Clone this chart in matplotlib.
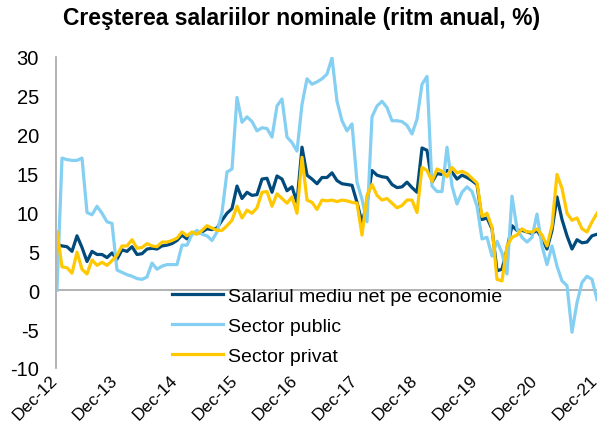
import matplotlib
matplotlib.use("Agg")
import matplotlib.pyplot as plt
import matplotlib.transforms as mtransforms
import numpy as np

plt.rcParams['font.family'] = ['Liberation Sans', 'DejaVu Sans']
plt.rcParams['axes.unicode_minus'] = False

# monthly, Dec-12 .. Dec-21
economie = [5.9, 5.7, 5.6, 5.0, 7.0, 5.5, 3.7, 5.0, 4.6, 4.6, 4.2, 4.8,
            4.0, 5.2, 5.0, 5.6, 4.6, 4.7, 5.3, 5.4, 5.3, 5.7, 5.8, 6.0,
            6.4, 7.1, 6.6, 7.3, 7.3, 7.5, 7.9, 7.8, 8.0, 9.0, 9.9, 10.5,
            13.4, 11.8, 12.6, 12.2, 12.3, 14.3, 14.4, 12.6, 14.7, 14.3, 12.8, 13.3,
            11.3, 18.4, 14.8, 14.3, 13.7, 14.5, 14.5, 15.1, 14.1, 13.7, 13.6, 13.5,
            11.3, 8.7, 11.2, 15.4, 14.8, 14.6, 14.5, 13.6, 13.2, 13.3, 13.9, 13.2,
            12.6, 18.3, 18.0, 13.9, 15.0, 14.9, 15.4, 15.2, 14.3, 14.8, 14.5, 14.1,
            13.6, 9.1, 9.3, 7.9, 2.5, 2.7, 5.3, 8.3, 7.7, 7.7, 7.5, 7.3,
            7.7, 6.7, 5.3, 7.7, 12.0, 9.1, 7.0, 5.3, 6.5, 6.1, 6.2, 7.0, 7.2]

public = [0.0, 17.0, 16.8, 16.7, 16.7, 17.0, 10.0, 9.7, 10.8, 9.9, 8.8, 8.6,
          2.6, 2.3, 2.0, 1.8, 1.5, 1.4, 1.7, 3.5, 2.7, 3.1, 3.3, 3.3,
          3.3, 5.8, 5.8, 7.2, 7.7, 7.2, 7.0, 6.4, 7.5, 10.0, 15.2, 15.6,
          24.8, 21.6, 22.3, 21.7, 20.5, 20.9, 20.8, 19.7, 23.7, 24.6, 19.7, 19.0,
          17.9, 23.9, 27.2, 26.5, 26.8, 27.2, 27.8, 29.9, 24.3, 21.8, 20.5, 21.4,
          13.9, 11.7, 8.8, 22.3, 23.7, 24.3, 23.5, 21.8, 21.8, 21.7, 21.2, 20.1,
          22.0, 26.5, 27.5, 13.4, 12.7, 12.7, 18.4, 13.4, 11.1, 12.6, 13.3, 12.7,
          10.8, 6.6, 6.8, 4.4, 6.3, 4.8, 2.1, 12.1, 7.9, 6.8, 6.2, 6.8,
          9.8, 5.7, 3.3, 5.7, 3.1, 1.2, 0.6, -5.4, -1.6, 1.0, 1.8, 1.4, -1.2]

privat = [7.5, 3.0, 2.9, 2.2, 4.9, 2.7, 2.1, 3.9, 3.2, 3.6, 3.2, 3.8,
          4.5, 5.7, 5.7, 6.5, 5.4, 5.5, 6.0, 5.7, 5.6, 6.2, 6.2, 6.4,
          6.7, 7.5, 7.0, 7.5, 7.2, 7.7, 8.3, 8.0, 7.7, 7.7, 8.3, 9.0,
          10.8, 9.3, 10.3, 9.9, 10.6, 12.6, 12.7, 10.8, 12.4, 11.8, 11.2, 12.0,
          9.9, 17.1, 11.6, 11.3, 10.4, 11.6, 11.5, 11.6, 11.4, 11.6, 11.5, 11.3,
          11.2, 7.1, 12.2, 13.6, 12.2, 11.6, 11.8, 11.2, 10.6, 10.9, 11.6, 11.6,
          10.0, 15.8, 15.4, 14.0, 15.6, 15.3, 14.6, 15.8, 15.1, 15.3, 15.0, 14.4,
          13.8, 9.5, 9.9, 8.1, 1.4, 1.2, 5.7, 6.8, 7.1, 7.9, 7.5, 7.5,
          7.9, 7.1, 5.7, 8.3, 14.9, 13.1, 9.9, 9.0, 9.3, 7.9, 7.5, 8.8, 9.9]

xlabels = ['Dec-12', 'Dec-13', 'Dec-14', 'Dec-15', 'Dec-16',
           'Dec-17', 'Dec-18', 'Dec-19', 'Dec-20', 'Dec-21']
series_names = ['Salariul mediu net pe economie', 'Sector public', 'Sector privat']

months = np.arange(len(economie))

fig = plt.figure(figsize=(6.03, 4.35), dpi=100)
ax = fig.add_axes([57 / 603, 1 - 369 / 435, 540 / 603, 311 / 435])

ax.axhline(0, color='#a6a6a6', lw=1.2, zorder=1)
ax.plot(months, economie, color='#004b7c', lw=2.3, label=series_names[0], zorder=3)
ax.plot(months, public, color='#84cff2', lw=2.3, label=series_names[1], zorder=3)
ax.plot(months, privat, color='#ffc800', lw=2.3, label=series_names[2], zorder=3)

ax.set_xlim(0, months[-1])
ax.set_ylim(-10, 30)
ax.set_yticks(np.arange(-10, 31, 5))
ax.set_xticks(months[::12])
ax.set_xticklabels(xlabels, rotation=45, ha='right', rotation_mode='anchor')
ax.tick_params(axis='both', length=0, colors='black')
ax.tick_params(axis='x', pad=3, labelsize=12.5)
ax.tick_params(axis='y', pad=12, labelsize=14.5)

# nudge the rotated labels left so the last one stays inside the picture
shift = mtransforms.ScaledTranslation(-7 / 100, 0, fig.dpi_scale_trans)
for lbl in ax.get_xticklabels():
    lbl.set_transform(lbl.get_transform() + shift)

for s in ['top', 'right', 'bottom']:
    ax.spines[s].set_visible(False)
ax.spines['left'].set_color('#a6a6a6')
ax.spines['left'].set_linewidth(1.2)
ax.spines['left'].set_position(('outward', 1))

fig.text(0.5, 1 - 18 / 435, 'Creşterea salariilor nominale (ritm anual, %)',
         ha='center', va='center', fontsize=16.5, fontweight='bold')

ax.legend(loc='upper left', bbox_to_anchor=(172 / 603, 1 - 288 / 435),
          bbox_transform=fig.transFigure, frameon=False, fontsize=14,
          handlelength=2.6, handletextpad=0.3, labelspacing=0.65,
          borderpad=0, borderaxespad=0)

fig.savefig('out.png', dpi=100)
